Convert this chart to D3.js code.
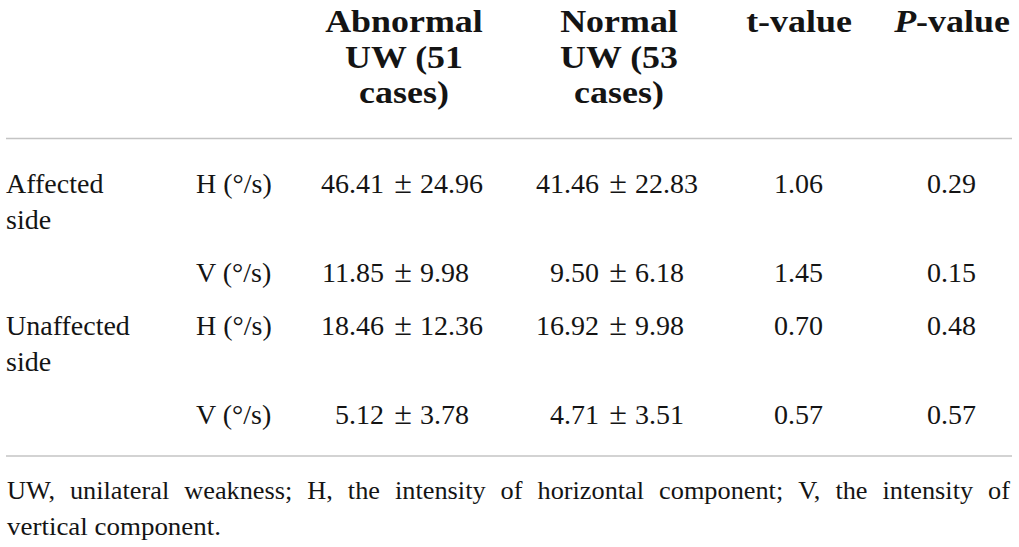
<!DOCTYPE html>
<html>
<head>
<meta charset="utf-8">
<script src="https://cdn.jsdelivr.net/npm/d3@7"></script>
<style>
  html, body { margin: 0; padding: 0; background: #fff; }
  svg { display: block; }
  text { font-family: "Liberation Serif", "DejaVu Serif", serif; fill: #141414; }
</style>
</head>
<body>
<svg id="chart" width="1019" height="547"></svg>
<script>
// ---- data ----
const headerLines = [["Abnormal", "UW (51", "cases)"], ["Normal", "UW (53", "cases)"]];
const groupLabels = [["Affected", "side"], [], ["Unaffected", "side"], []];
const params = ["H (°/s)", "V (°/s)", "H (°/s)", "V (°/s)"];
const abnormalMean = ["46.41", "11.85", "18.46", "5.12"];
const abnormalSD = ["24.96", "9.98", "12.36", "3.78"];
const normalMean = ["41.46", "9.50", "16.92", "4.71"];
const normalSD = ["22.83", "6.18", "9.98", "3.51"];
const tValues = ["1.06", "1.45", "0.70", "0.57"];
const pValues = ["0.29", "0.15", "0.48", "0.57"];
const footLine1 = "UW, unilateral weakness; H, the intensity of horizontal component; V, the intensity of";
const footLine2 = "vertical component.";

// ---- layout ----
const svg = d3.select("#chart");
const left = 6, right = 1012;
const bodySize = 28, headSize = 31.5, footSize = 25;
const lineH = 36;
const headStretch = 1.14;

// column positions (x)
const colX = d3.scaleOrdinal()
  .domain(["group", "param", "abn", "nor", "t", "p"])
  .range([left, 196, 403, 618, 823, 976]);
const headCenter = { abn: 404, nor: 619, t: 799, p: 952 };

const stretch = (sel, k) => {
  const w = sel.node().getComputedTextLength();
  sel.attr("textLength", w * k).attr("lengthAdjust", "spacingAndGlyphs");
  return sel;
};

// header
const headY = d3.scaleLinear().domain([0, 1]).range([32, 67.5]);
const headText = (x, yy) => svg.append("text").attr("x", x).attr("y", yy)
  .attr("text-anchor", "middle").attr("font-size", headSize).attr("font-weight", "bold");
headerLines.forEach((lines, ci) => {
  const cx = ci === 0 ? headCenter.abn : headCenter.nor;
  lines.forEach((ln, li) => stretch(headText(cx, headY(li)).text(ln), headStretch));
});
stretch(headText(headCenter.t, headY(0)).text("t-value"), headStretch);
const pv = headText(headCenter.p, headY(0));
pv.append("tspan").attr("font-style", "italic").text("P");
pv.append("tspan").text("-value");
stretch(pv, headStretch);

// rules
const rule = (y) => svg.append("line").attr("x1", left).attr("x2", right)
  .attr("y1", y).attr("y2", y).attr("stroke", "#c4c4c4").attr("stroke-width", 1.6);
rule(138.5);
rule(456);

// row baselines computed from number of lines in each row
const rowLines = groupLabels.map(g => Math.max(1, g.length));
const rowY = [];
let y = 193;
rowLines.forEach((n) => { rowY.push(y); y += n * lineH + 17; });

const body = (x, yy, str, anchor) => svg.append("text")
  .attr("x", x).attr("y", yy).attr("text-anchor", anchor || "start")
  .attr("font-size", bodySize).text(str);

params.forEach((p, i) => {
  const yy = rowY[i];
  groupLabels[i].forEach((g, k) => body(colX("group"), yy + k * lineH, g));
  body(colX("param"), yy, p);
  // mean ± sd aligned on the ± sign
  [["abn", abnormalMean, abnormalSD], ["nor", normalMean, normalSD]].forEach(([c, m, s]) => {
    const px = colX(c);
    body(px - 19, yy, m[i], "end");
    body(px, yy, "±", "middle").attr("font-size", bodySize * 1.15);
    body(px + 17, yy, s[i], "start");
  });
  body(colX("t"), yy, tValues[i], "end");
  body(colX("p"), yy, pValues[i], "end");
});

// footnote: justified first line
const words = footLine1.split(" ");
const tmp = words.map(w => svg.append("text").attr("font-size", footSize).attr("y", 499).text(w));
const widths = tmp.map(t => t.node().getComputedTextLength());
const span = 1010 - 7;
const targetGap = 15;
const scaleX = Math.max(1, (span - targetGap * (words.length - 1)) / d3.sum(widths));
const gap = (span - d3.sum(widths) * scaleX) / (words.length - 1);
let cx = 7;
tmp.forEach((t, i) => {
  t.attr("x", cx).attr("textLength", widths[i] * scaleX).attr("lengthAdjust", "spacingAndGlyphs");
  cx += widths[i] * scaleX + gap;
});
const f2 = svg.append("text").attr("x", 7).attr("y", 535).attr("font-size", footSize).text(footLine2);
f2.attr("textLength", 214).attr("lengthAdjust", "spacingAndGlyphs");
</script>
</body>
</html>
